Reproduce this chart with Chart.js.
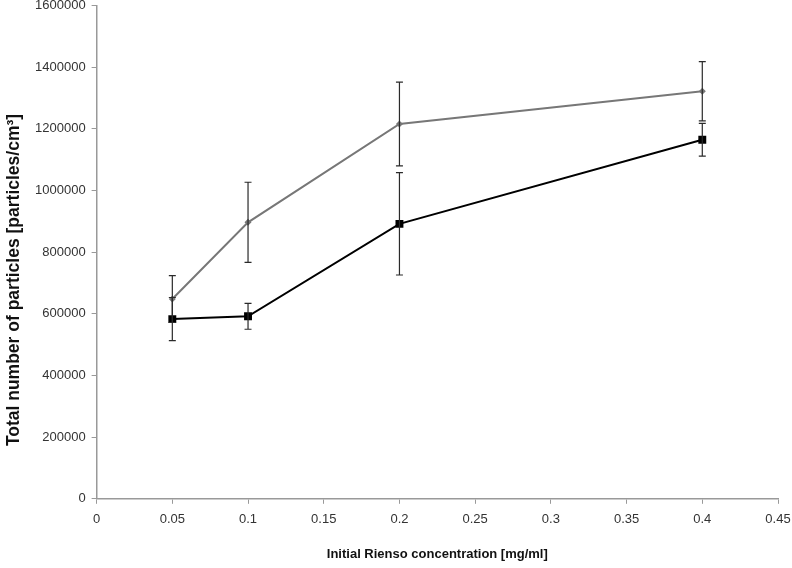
<!DOCTYPE html>
<html>
<head>
<meta charset="utf-8">
<script src="https://cdn.jsdelivr.net/npm/chart.js@4"></script>
<style>
  body { margin: 0; background: #fff; }
</style>
</head>
<body>
<canvas id="myChart" width="792" height="568"></canvas>
<script>
// concentrations [mg/ml]
var conc = [0.05, 0.1, 0.2, 0.4];
// grey series (diamonds) and its error
var greyVals = [648000, 897000, 1216000, 1322000];
var greyErr = [76000, 130000, 136000, 96000];
// black series (squares) and its error
var blackVals = [583000, 592000, 892000, 1165000];
var blackErr = [70000, 42000, 166000, 53000];

var xTicks = [0, 0.05, 0.1, 0.15, 0.2, 0.25, 0.3, 0.35, 0.4, 0.45];
var yTitle = 'Total number of particles [particles/cm\u00b3]';

function pts(vals){
    return conc.map((c,i)=>({x:c, y:vals[i]}))
}

// draws the vertical error bars through the chart scales
var errorBars = {
    id: 'errorBars',
    afterDatasetsDraw(chart){
        let c = chart.ctx
        let xs = chart.scales.x, ys = chart.scales.y
        let sets = [greyErr, blackErr]
        chart.data.datasets.forEach((ds, k) => {
            c.save()
            c.strokeStyle = '#2a2a2a'
            c.lineWidth = 1.2
            ds.data.forEach((p, i) => {
                let px = xs.getPixelForValue(p.x)
                let top = ys.getPixelForValue(p.y + sets[k][i])
                let bot = ys.getPixelForValue(p.y - sets[k][i])
                c.beginPath()
                c.moveTo(px, top); c.lineTo(px, bot)
                c.moveTo(px-3.5, top); c.lineTo(px+3.5, top)
                c.moveTo(px-3.5, bot); c.lineTo(px+3.5, bot)
                c.stroke()
            })
            c.restore()
        })
    }
}

// y axis title sits a bit below the plot centre in the original
var yTitlePlugin = {
    id: 'yTitle',
    afterDraw(chart){
        let c = chart.ctx
        c.save()
        c.translate(14, 280)
        c.rotate(-Math.PI/2)
        c.textAlign = 'center'
        c.textBaseline = 'middle'
        c.fillStyle = '#111'
        c.font = 'bold 17.5px "Liberation Sans"'
        c.fillText(yTitle, 0, 0)
        c.restore()
    }
}

var ctx = document.getElementById('myChart').getContext('2d');
var myChart = new Chart(ctx, {
    type: 'scatter',
    data: {
      datasets: [{
          label: 'grey',
          data: pts(greyVals),
          showLine: true,
          borderColor: '#777777',
          backgroundColor: '#777777',
          borderWidth: 2,
          pointStyle: 'rectRot',
          pointRadius: 3.5,
          pointBorderWidth: 0
        },
        {
          label: 'black',
          data: pts(blackVals),
          showLine: true,
          borderColor: '#000000',
          backgroundColor: '#000000',
          borderWidth: 2,
          pointStyle: 'rect',
          pointRadius: 5.6,
          pointBorderWidth: 0
        }]
    },
    options: {
      responsive: false,
      animation: false,
      layout: { padding: { top: 0, right: 0, bottom: 6, left: 29 } },
      plugins: { legend: { display: false }, tooltip: { enabled: false } },
      scales: {
        x: {
          type: 'linear',
          min: 0, max: 0.45,
          afterBuildTicks: axis => { axis.ticks = xTicks.map(v => ({value: v})) },
          afterFit: s => { s.paddingRight = 14 },
          ticks: {
            color: '#333',
            font: { family: 'Liberation Sans', size: 13 },
            padding: 8,
            maxRotation: 0,
            callback: v => String(+v.toFixed(2))
          },
          grid: { drawOnChartArea: false, drawTicks: true, tickLength: 5, color: '#999' },
          border: { color: '#999', width: 1.5 },
          title: {
            display: true,
            text: 'Initial Rienso concentration [mg/ml]',
            color: '#111',
            font: { family: 'Liberation Sans', size: 13, weight: 'bold' },
            padding: { top: 11, bottom: 0 }
          }
        },
        y: {
          min: 0, max: 1600000,
          afterFit: s => { s.paddingTop = 5 },
          ticks: {
            stepSize: 200000,
            color: '#333',
            font: { family: 'Liberation Sans', size: 13 },
            padding: 6,
            callback: v => String(v)
          },
          grid: { drawOnChartArea: false, drawTicks: true, tickLength: 5, color: '#999' },
          border: { color: '#999', width: 1.5 }
        }
      }
    },
    plugins: [errorBars, yTitlePlugin]
  });
</script>
</body>
</html>
